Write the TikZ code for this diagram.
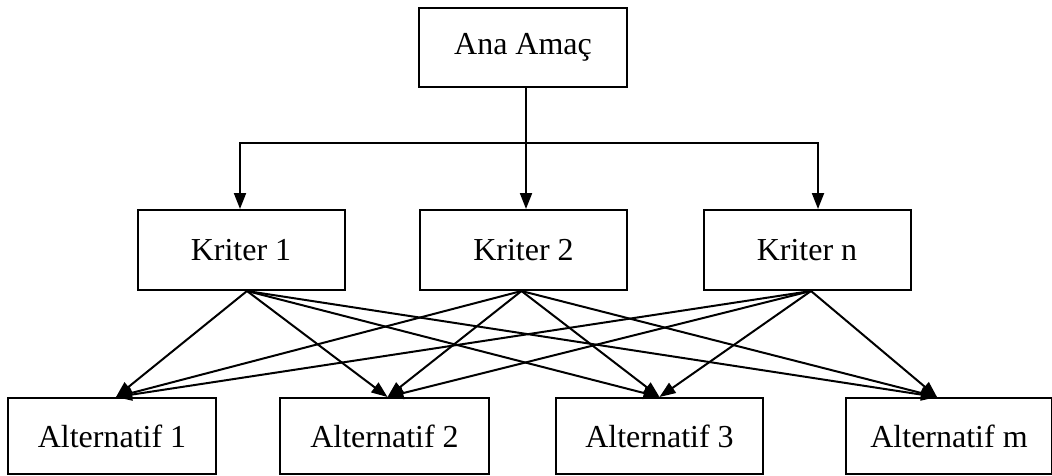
\documentclass[tikz,border=0pt]{standalone}
\usepackage{fontspec}
\setmainfont{Liberation Serif}
\usetikzlibrary{arrows.meta}
\tikzset{
  box/.style={draw=black, line width=2pt, fill=white, inner sep=0pt, font=\fontsize{32}{36}\selectfont},
  conn/.style={line width=2pt, draw=black},
  arr/.style={conn, -{Triangle[length=16pt,width=12pt]}}
}
\begin{document}
\begin{tikzpicture}[x=1pt,y=-1pt]
\useasboundingbox (0,0) rectangle (1052,475);
% nodes
\node[box, minimum width=208pt, minimum height=79pt] (ana) at (523,47) {Ana Amaç};
\node[box, minimum width=207pt, minimum height=80pt] (k1) at (241,250) {Kriter 1};
\node[box, minimum width=207pt, minimum height=80pt] (k2) at (523.5,250) {Kriter 2};
\node[box, minimum width=207pt, minimum height=80pt] (kn) at (807,250) {Kriter n};
\node[box, minimum width=208pt, minimum height=76pt] (a1) at (112,436) {Alternatif 1};
\node[box, minimum width=209pt, minimum height=76pt] (a2) at (384.5,436) {Alternatif 2};
\node[box, minimum width=207pt, minimum height=76pt] (a3) at (659.5,436) {Alternatif 3};
\node[box, minimum width=206pt, minimum height=76pt] (am) at (949,436) {Alternatif m};
% bus
\coordinate (busM) at (526,143);
\coordinate (busL) at (240,143);
\coordinate (busR) at (818,143);
\draw[conn] (ana.south -| busM) -- (busM);
\draw[conn, line cap=rect] (busL) -- (busR);
\draw[arr] (busL) -- (busL |- k1.north);
\draw[arr] (busM) -- (busM |- k2.north);
\draw[arr] (busR) -- (busR |- kn.north);
% start points
\coordinate (s1) at ([xshift=6pt]k1.south);
\coordinate (s2) at ([xshift=-2pt]k2.south);
\coordinate (sn) at ([xshift=4pt]kn.south);
% end points
\coordinate (t1) at ([xshift=4pt]a1.north);
\coordinate (t2) at ([xshift=3pt]a2.north);
\coordinate (t3) at (a3.north);
\coordinate (tm) at ([xshift=-12pt]am.north);
\foreach \s in {s1,s2,sn}{
  \foreach \t in {t1,t2,t3,tm}{
    \draw[arr] (\s) -- (\t);
  }
}
\end{tikzpicture}
\end{document}
